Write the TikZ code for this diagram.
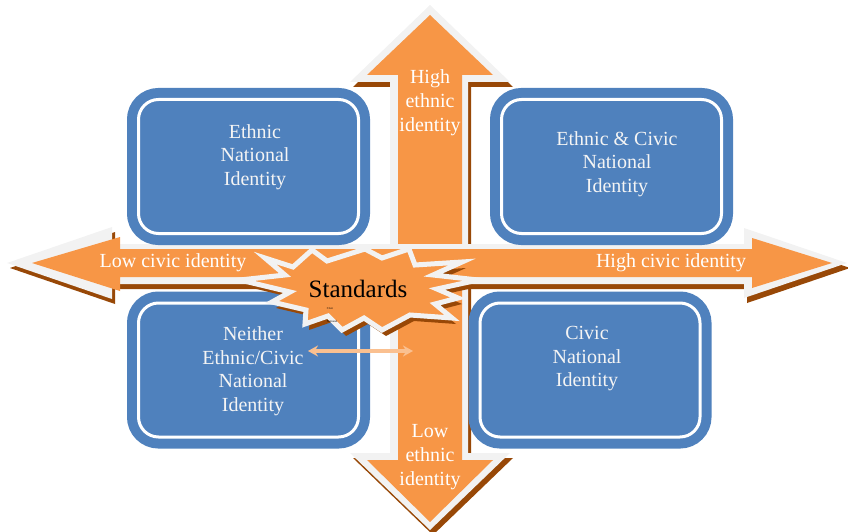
\documentclass[tikz,border=0pt]{standalone}
\usepackage{fontspec}
\setmainfont{Liberation Serif}
\usetikzlibrary{arrows.meta}
\definecolor{arrorange}{HTML}{F79646}
\definecolor{arrgray}{HTML}{F2F2F2}
\definecolor{arrshadow}{HTML}{984807}
\definecolor{boxblue}{HTML}{4F81BD}
\definecolor{peach}{HTML}{FAC090}
\definecolor{boxtext}{HTML}{F4F4F4}
\begin{document}
\begin{tikzpicture}[x=1pt,y=-1pt,
  box/.style={draw=white, line width=3pt, fill=boxblue, rounded corners=20pt,
    minimum width=220pt, minimum height=134pt, inner sep=0pt,
    preaction={draw=boxblue, line width=23pt}},
  boxlabel/.style={text=boxtext, align=center, inner sep=0pt,
    font=\fontsize{20}{23.5}\selectfont},
  arrlabel/.style={text=white, align=center, inner sep=0pt,
    font=\fontsize{20}{24}\selectfont},
  tiny/.style={text=black, inner sep=0pt, font=\fontsize{3}{3}\selectfont},
  dblarrow/.style={draw=peach, line width=3.4pt,
    {Stealth[length=10pt,width=11pt]}-{Stealth[length=10pt,width=11pt]}}
]
\useasboundingbox (0,0) rectangle (848,532);

% ---- vertical arrow ----
\begin{scope}[shift={(3,5)}]
\fill[arrshadow] (430,5) -- (510,82) -- (468,82) -- (468,453) -- (510,453) -- (430,530) -- (350,453) -- (390,453) -- (390,82) -- (350,82) -- cycle;
\end{scope}
\fill[arrgray] (430,5) -- (510,82) -- (468,82) -- (468,453) -- (510,453) -- (430,530) -- (350,453) -- (390,453) -- (390,82) -- (350,82) -- cycle;
\fill[arrorange] (430,15) -- (493,75) -- (462,75) -- (462,460) -- (493,460) -- (430,522) -- (367,460) -- (398,460) -- (398,75) -- (367,75) -- cycle;

% ---- horizontal arrow ----
\begin{scope}[shift={(3,5)}]
\fill[arrshadow] (7,263) -- (112,227) -- (112,244) -- (744,244) -- (744,228) -- (847,263) -- (744,298) -- (744,284) -- (112,284) -- (112,299) -- cycle;
\end{scope}
\fill[arrgray] (7,263) -- (112,227) -- (112,244) -- (744,244) -- (744,228) -- (847,263) -- (744,298) -- (744,284) -- (112,284) -- (112,299) -- cycle;
\fill[arrorange] (32,263) -- (120,237) -- (120,249) -- (752,249) -- (752,238) -- (832,263) -- (752,288) -- (752,277) -- (120,277) -- (120,291) -- cycle;

% ---- arrow labels ----
\node[arrlabel] (lowcivic) at (173,263) {Low civic identity};
\node[arrlabel] (highcivic) at (671,263) {High civic identity};
\node[arrlabel] (highethnic) at (430,103) {High\\ethnic\\identity};
\node[arrlabel] (lowethnic) at (430,457) {Low\\ethnic\\identity};

% ---- boxes ----
\node[box] (tl) at (248.5,166.5) {};
\node[box] (tr) at (611.5,166.5) {};
\node[box] (bl) at (248.5,370) {};
\node[box] (br) at (590,370) {};

\node[boxlabel] (tltext) at (255,157) {Ethnic\\National\\Identity};
\node[boxlabel] (trtext) at (617,164) {Ethnic \& Civic\\National\\Identity};
\node[boxlabel] (bltext) at (253,371) {Neither\\Ethnic/Civic\\National\\Identity};
\node[boxlabel] (brtext) at (587,359) {Civic\\National\\Identity};

% ---- starburst ----
\begin{scope}[shift={(4,6)}]
\fill[arrshadow] (240,280) -- (285,275) -- (265,258) -- (293,267) -- (312,250) -- (327,261) -- (365,249) -- (382,258) -- (409,249) -- (415,265) -- (462,262) -- (433,275) -- (478,280) -- (437,289) -- (458,298) -- (435,304) -- (452,318) -- (410,315) -- (382,330) -- (364,318) -- (342,330) -- (328,316) -- (305,324) -- (306,310) -- (272,302) -- (290,292) -- cycle;
\end{scope}
\filldraw[fill=arrorange, draw=arrgray, line width=5pt, line join=miter] (240,280) -- (285,275) -- (265,258) -- (293,267) -- (312,250) -- (327,261) -- (365,249) -- (382,258) -- (409,249) -- (415,265) -- (462,262) -- (433,275) -- (478,280) -- (437,289) -- (458,298) -- (435,304) -- (452,318) -- (410,315) -- (382,330) -- (364,318) -- (342,330) -- (328,316) -- (305,324) -- (306,310) -- (272,302) -- (290,292) -- cycle;
\node[text=black, inner sep=0pt, font=\fontsize{25}{28}\selectfont] (standards) at (358,289) {Standards};
\node[tiny] (tinycivic) at (330,309) {Civic};
\node[tiny] (tinynational) at (332,321) {National};

% ---- small double arrow ----
\coordinate (dal) at (308,351);
\coordinate (dar) at (413,351);
\draw[dblarrow] (dal) -- (dar);
\end{tikzpicture}
\end{document}
